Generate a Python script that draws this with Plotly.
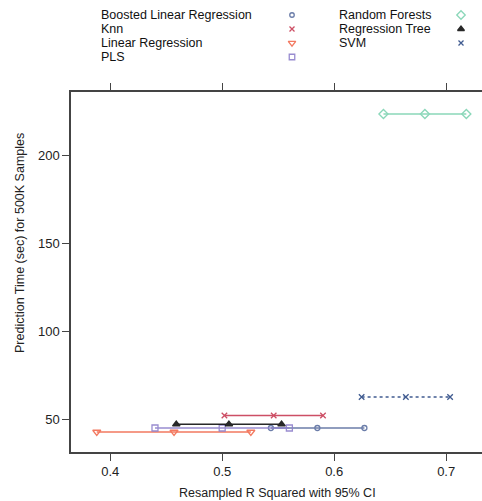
import plotly.graph_objects as go

models = ["Boosted Linear Regression", "Knn", "Linear Regression", "PLS",
          "Random Forests", "Regression Tree", "SVM"]
# R squared: lower CI, estimate, upper CI
r2_lower = [0.5435, 0.502, 0.388, 0.440, 0.644, 0.459, 0.6245]
r2_est = [0.585, 0.546, 0.457, 0.500, 0.681, 0.506, 0.664]
r2_upper = [0.627, 0.590, 0.5256, 0.560, 0.718, 0.553, 0.7035]
pred_time = [44.9, 52.0, 42.6, 44.9, 223.3, 47.0, 62.5]

colors = ["#5b6fa0", "#c83c55", "#f26b4f", "#8e80cc", "#7ed3b2", "#111111", "#2c4a85"]
symbols = ["circle-open", "x-thin-open", "triangle-down-open", "square-open",
           "diamond-open", "triangle-up", "x-thin-open"]
dashes = ["solid", "solid", "solid", "solid", "solid", "solid", "dot"]
msizes = [5, 5.5, 7, 6, 7, 6.5, 5.5]

x_ticks = [0.4, 0.5, 0.6, 0.7]
y_ticks = [50, 100, 150, 200]

FONT = "Liberation Sans, Arial, sans-serif"
fig = go.Figure()

for i, m in enumerate(models):
    fig.add_trace(go.Scatter(
        x=[r2_lower[i], r2_est[i], r2_upper[i]],
        y=[pred_time[i]] * 3,
        mode="lines+markers",
        line=dict(color=colors[i], width=1.5, dash=dashes[i]),
        marker=dict(symbol=symbols[i], size=msizes[i], color=colors[i],
                    line=dict(color=colors[i], width=1.3)),
        opacity=0.9,
        name=m, showlegend=False, xaxis="x", yaxis="y"))

# Legend (symbols to the right of labels), drawn on a helper axis in the top margin
col_text_x = [99, 99, 99, 99, 337, 337, 337]
col_sym_x = [292, 292, 292, 292, 461, 461, 461]
row_y = [15, 29, 43, 57, 15, 29, 43]
for i, m in enumerate(models):
    fig.add_trace(go.Scatter(
        x=[col_sym_x[i]], y=[row_y[i]], mode="markers",
        marker=dict(symbol=symbols[i], size=msizes[i] - 0.5, color=colors[i],
                    line=dict(color=colors[i], width=1.3)),
        opacity=0.9,
        showlegend=False, xaxis="x2", yaxis="y2", hoverinfo="skip"))
    fig.add_annotation(x=col_text_x[i], y=row_y[i], xref="x2", yref="y2",
                       text=m, showarrow=False, xanchor="left", yanchor="middle",
                       font=dict(family=FONT, size=12.5, color="#111111"))

H = 452.0
main_top = 360.0 / H
axis_col = "#444444"
fig.update_layout(
    width=482, height=501,
    margin=dict(l=71, r=0, t=0, b=49),
    paper_bgcolor="white", plot_bgcolor="white",
    showlegend=False,
    font=dict(family=FONT, size=13, color="#222222"),
    xaxis=dict(domain=[0, 1], range=[0.365, 0.732], tickvals=x_ticks,
               ticktext=[str(v) for v in x_ticks],
               showline=True, linecolor=axis_col, linewidth=1.5, mirror="allticks",
               ticks="outside", ticklen=7, tickcolor=axis_col, tickwidth=1.2,
               showgrid=False, zeroline=False, anchor="y",
               tickfont=dict(family=FONT, size=13, color="#222222")),
    yaxis=dict(domain=[0, main_top], range=[31.25, 235.8], tickvals=y_ticks,
               ticktext=[str(v) for v in y_ticks],
               showline=True, linecolor=axis_col, linewidth=1.5, mirror=False,
               ticks="outside", ticklen=7, tickcolor=axis_col, tickwidth=1.2,
               showgrid=False, zeroline=False, anchor="x",
               tickfont=dict(family=FONT, size=13, color="#222222")),
    xaxis2=dict(domain=[0, 1], range=[71, 482], visible=False, anchor="y2",
                fixedrange=True),
    yaxis2=dict(domain=[(H - 70) / H, 1], range=[70, 0], visible=False, anchor="x2",
                fixedrange=True),
)

fig.add_annotation(text="Resampled R Squared with 95% CI", xref="paper", yref="paper",
                   x=(277 - 71) / 411, y=-41 / H, showarrow=False,
                   xanchor="center", yanchor="middle",
                   font=dict(family=FONT, size=12.5, color="#222222"))
fig.add_annotation(text="Prediction Time (sec) for 500K Samples", xref="paper", yref="paper",
                   x=(20 - 71) / 411, y=(H - 243) / H, showarrow=False, textangle=-90,
                   xanchor="center", yanchor="middle",
                   font=dict(family=FONT, size=12.5, color="#222222"))

fig.write_html("out.html")
